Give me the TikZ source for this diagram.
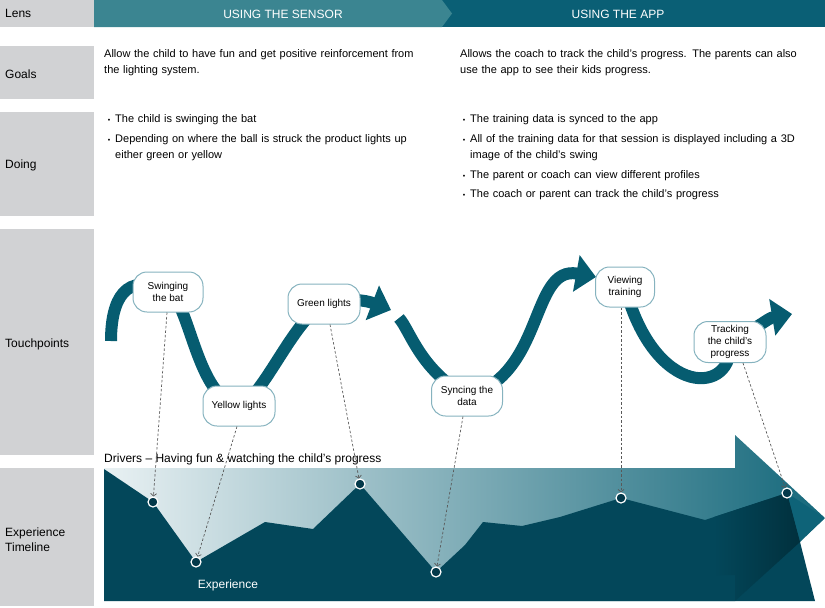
\documentclass[tikz,border=0pt]{standalone}
\usepackage{fontspec}
\setmainfont{Liberation Sans}
\usetikzlibrary{arrows.meta,positioning}
\pgfdeclarelayer{back}
\pgfsetlayers{back,main}
\definecolor{panelgray}{HTML}{D1D2D4}
\definecolor{sensorteal}{HTML}{3B8591}
\definecolor{appteal}{HTML}{0A5F75}
\definecolor{ribbonteal}{HTML}{065C70}
\definecolor{boxline}{HTML}{86B3BF}
\definecolor{expdark}{HTML}{03475A}
\definecolor{expshadow}{HTML}{01303D}
\definecolor{explight}{HTML}{E9F1F3}
\definecolor{exparrow}{HTML}{15687B}
\definecolor{headteal}{HTML}{0E6378}
\definecolor{dotfill}{HTML}{03394A}
\newcommand\bul{\leavevmode\llap{{\fontsize{7}{7}\selectfont\textbullet}\hspace{5pt}}}

\begin{document}
\begin{tikzpicture}[x=1pt,y=-1pt,
  rowlabel/.style={anchor=west,align=left,inner sep=0pt,font=\fontsize{12}{15}\selectfont},
  headtext/.style={text=white,font=\fontsize{12}{14}\selectfont},
  bodytext/.style={anchor=base west,align=left,text width=340pt,inner sep=0pt,font=\fontsize{11}{16}\selectfont},
  tpbox/.style={draw=boxline,fill=white,line width=1pt,rounded corners=14pt,align=center,inner sep=1pt,minimum height=40pt,font=\fontsize{10}{12}\selectfont},
  ribbon/.style={draw=ribbonteal,line width=12pt},
  bigtip/.style={-{Triangle[length=20pt,width=36pt]}},
  dashline/.style={draw=black!65,line width=0.7pt,dash pattern=on 2.5pt off 2pt,-{Straight Barb[length=2.5pt,width=6pt]}},
  dot/.style={circle,fill=dotfill,draw=white,line width=1.2pt,minimum size=10pt,inner sep=0pt}]
\useasboundingbox (0,0) rectangle (825,608);

% row panels
\fill[panelgray] (0,0) rectangle (94,27);
\fill[panelgray] (0,46) rectangle (94,99);
\fill[panelgray] (0,112) rectangle (94,216);
\fill[panelgray] (0,229) rectangle (94,455);
\fill[panelgray] (0,468) rectangle (94,606);
\node[rowlabel] (lens) at (5,13.5) {Lens};
\node[rowlabel] (goals) at (5,74) {Goals};
\node[rowlabel] (doing) at (5,165) {Doing};
\node[rowlabel] (touch) at (5,344) {Touchpoints};
\node[rowlabel] (timeline) at (5,540) {Experience\\Timeline};

% header
\fill[appteal] (94,0) rectangle (825,27);
\fill[sensorteal] (94,0) -- (442,0) -- (452,13.5) -- (442,27) -- (94,27) -- cycle;
\node[headtext] (sensor) at (283,14) {USING THE SENSOR};
\node[headtext] (app) at (618,14) {USING THE APP};

% goals and doing
\node[bodytext] (goalsensor) at (104,57) {Allow the child to have fun and get positive reinforcement from\\the lighting system.};
\node[bodytext] (goalapp) at (460,57) {Allows the coach to track the child's progress. The parents can also\\use the app to see their kids progress.};
\node[bodytext] (doa) at (115,122) {\bul The child is swinging the bat};
\node[bodytext] (dob) at (115,142) {\bul Depending on where the ball is struck the product lights up\\either green or yellow};
\node[bodytext] (doc) at (470,122) {\bul The training data is synced to the app};
\node[bodytext] (dod) at (470,142) {\bul All of the training data for that session is displayed including a 3D\\image of the child's swing};
\node[bodytext] (doe) at (470,178) {\bul The parent or coach can view different profiles};
\node[bodytext] (dof) at (470,197) {\bul The coach or parent can track the child's progress};

% experience timeline
\coordinate (p1) at (153,502);
\coordinate (p2) at (196,562);
\coordinate (p3) at (360,484);
\coordinate (p4) at (436,572);
\coordinate (p5) at (621,498);
\coordinate (p6) at (787,493);
\path[left color=explight,right color=exparrow] (104,468) -- (735,468) -- (735,435) -- (825,518) -- (735,601) -- (104,601) -- cycle;
\fill[expdark] (104,469) -- (p1) -- (p2) -- (265,522) -- (313,529) -- (p3) -- (p4) -- (465,545) -- (483,522) -- (522,526) -- (560,517) -- (p5) -- (705,520) -- (p6) -- (800,542) -- (815,601) -- (104,601) -- cycle;
\fill[headteal] (p6) -- (825,518) -- (800,542) -- cycle;
\path[left color=expdark,right color=expshadow] (714,517) -- (p6) -- (800,542) -- (735,601) -- (735,575) -- (714,575) -- cycle;
\node[anchor=base west,inner sep=0pt,font=\fontsize{12}{14}\selectfont] (drivers) at (104,462) {Drivers -- Having fun \& watching the child's progress};
\node[text=white,font=\fontsize{12}{14}\selectfont] (experience) at (228,585) {Experience};

% touchpoints
\node[tpbox,minimum width=70pt] (swing) at (168,292) {Swinging\\the bat};
\node[tpbox,minimum width=72pt] (yellow) at (239,406) {Yellow lights};
\node[tpbox,minimum width=72pt] (green) at (324,304) {Green lights};
\node[tpbox,minimum width=71pt] (sync) at (467,396) {Syncing the\\data};
\node[tpbox,minimum width=59pt] (view) at (625,287) {Viewing\\training};
\node[tpbox,minimum width=72pt,minimum height=41pt] (track) at (730,342) {Tracking\\the child's\\progress};
\coordinate (s1) at (111,341);
\coordinate (s2) at (399,318);
\coordinate (t1) at (391,310);
\coordinate (t2) at (596,277);
\coordinate (t3) at (792,314);
\begin{pgfonlayer}{back}
\draw[ribbon,bigtip] (s1) .. controls (111,300) and (125,270) .. (swing.center) .. controls (190,300) and (196,398) .. (yellow.center) .. controls (263,398) and (293,320) .. (green.center) .. controls (350,298) and (365,300) .. (t1);
\draw[ribbon,bigtip] (s2) .. controls (410,330) and (420,370) .. (sync.center) .. controls (545,375) and (530,265) .. (t2);
\draw[ribbon,bigtip] (view.center) .. controls (655,400) and (735,395) .. (track.center) .. controls (755,330) and (768,318) .. (t3);
\end{pgfonlayer}

\node[dot] (d1) at (p1) {};
\node[dot] (d2) at (p2) {};
\node[dot] (d3) at (p3) {};
\node[dot] (d4) at (p4) {};
\node[dot] (d5) at (p5) {};
\node[dot] (d6) at (p6) {};
\draw[dashline] ([xshift=-1pt]swing.south) -- (d1);
\draw[dashline] ([xshift=-2pt]yellow.south) -- (d2);
\draw[dashline] ([xshift=6pt]green.south) -- (d3);
\draw[dashline] ([xshift=-4pt]sync.south) -- (d4);
\draw[dashline] ([xshift=-4pt]view.south) -- (d5);
\draw[dashline] ([xshift=13pt]track.south) -- (d6);
\end{tikzpicture}
\end{document}
